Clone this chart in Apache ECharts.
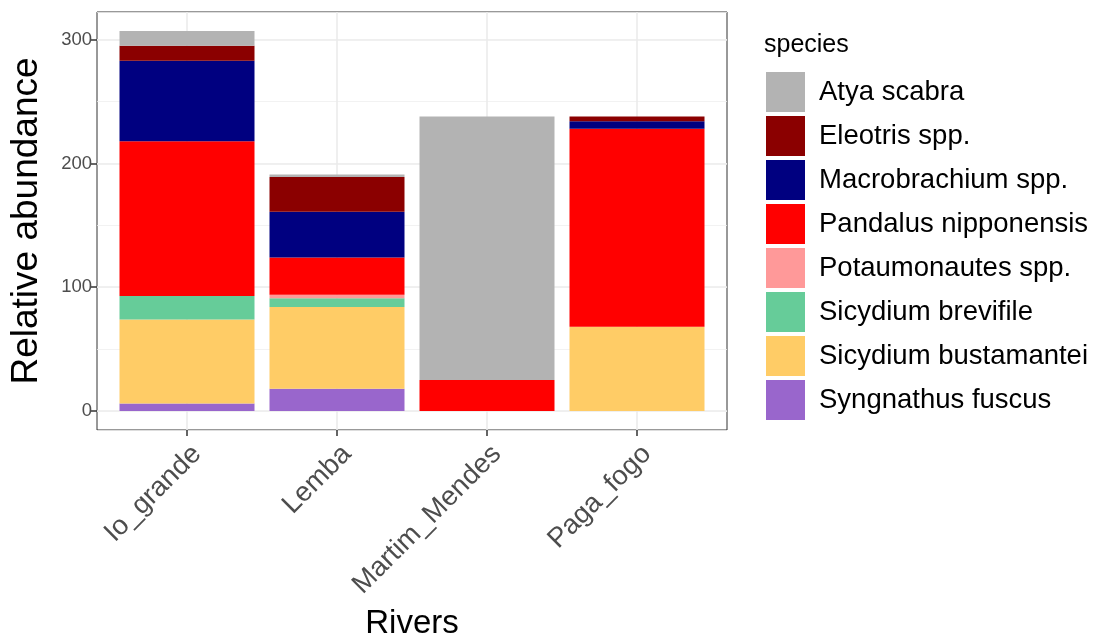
<!DOCTYPE html>
<html>
<head>
<meta charset="utf-8">
<script src="https://cdn.jsdelivr.net/npm/echarts@6/dist/echarts.min.js"></script>
<style>
html,body{margin:0;padding:0;background:#fff;}
#chart{width:1100px;height:642px;}
</style>
</head>
<body>
<div id="chart"></div>
<script>
// Data
const rivers = ['Io_grande', 'Lemba', 'Martim_Mendes', 'Paga_fogo'];
const species = ['Atya scabra', 'Eleotris spp.', 'Macrobrachium spp.', 'Pandalus nipponensis',
                 'Potaumonautes spp.', 'Sicydium brevifile', 'Sicydium bustamantei', 'Syngnathus fuscus'];
const speciesColors = ['#B3B3B3', '#8B0000', '#000080', '#FF0000', '#FF9999', '#66CC99', '#FFCC66', '#9966CC'];
const atyaScabra          = [12, 2, 213, 0];
const eleotrisSpp         = [12, 28, 0, 4];
const macrobrachiumSpp    = [65, 37, 0, 6];
const pandalusNipponensis = [125, 30, 25, 160];
const potaumonautesSpp    = [0, 3, 0, 0];
const sicydiumBrevifile   = [19, 7, 0, 0];
const sicydiumBustamantei = [68, 66, 0, 68];
const syngnathusFuscus    = [6, 18, 0, 0];
const yTicks = [0, 100, 200, 300];

const seriesValues = [atyaScabra, eleotrisSpp, macrobrachiumSpp, pandalusNipponensis,
                      potaumonautesSpp, sicydiumBrevifile, sicydiumBustamantei, syngnathusFuscus];

// y range with ggplot-like 5% expansion
const totals = rivers.map((_, i) => seriesValues.reduce((s, a) => s + a[i], 0));
const maxTotal = Math.max(...totals);
const yMin = -0.05 * maxTotal;
const yMax = maxTotal * 1.05;

const FONT = '"Liberation Sans", Arial, sans-serif';

// stack bottom first: reverse of legend order
const series = [];
for (let k = species.length - 1; k >= 0; k--) {
  series.push({
    name: species[k],
    type: 'bar',
    stack: 'total',
    xAxisIndex: 1,
    yAxisIndex: 1,
    barWidth: '90%',
    itemStyle: { color: speciesColors[k] },
    data: seriesValues[k]
  });
}

const chart = echarts.init(document.getElementById('chart'), null, { renderer: 'canvas' });
chart.setOption({
  animation: false,
  textStyle: { fontFamily: FONT },
  color: speciesColors,
  title: {
    text: 'species', left: 759, top: 28,
    textStyle: { fontFamily: FONT, fontSize: 25, fontWeight: 'normal', color: '#000' }
  },
  legend: {
    orient: 'vertical', left: 761, top: 67,
    itemWidth: 39, itemHeight: 40, itemGap: 4,
    icon: 'rect',
    data: species,
    selectedMode: false,
    textStyle: { fontFamily: FONT, fontSize: 27.5, color: '#000', padding: [0, 0, 0, 9] }
  },
  grid: [
    { left: 97, top: 12, width: 630, height: 418, show: true, borderColor: '#333333', borderWidth: 1,
      backgroundColor: 'transparent', outerBoundsMode: 'none', containLabel: false },
    { left: 112, top: 12, width: 600, height: 418, outerBoundsMode: 'none', containLabel: false }
  ],
  xAxis: [
    { type: 'value', gridIndex: 0, show: false, min: 0, max: 1 },
    {
      type: 'category', gridIndex: 1, data: rivers,
      axisLine: { show: false, onZero: false },
      axisTick: { show: true, alignWithLabel: true, length: 6, lineStyle: { color: '#333333', width: 1.5 } },
      splitLine: { show: true, alignWithLabel: true, lineStyle: { color: '#EBEBEB', width: 1.6 } },
      axisLabel: { rotate: 45, fontSize: 27.5, color: '#4D4D4D', margin: 10, verticalAlign: 'top', fontFamily: FONT },
      name: 'Rivers', nameLocation: 'middle', nameGap: 194, nameMoveOverlap: false,
      nameTextStyle: { fontSize: 33, color: '#000', fontFamily: FONT, verticalAlign: 'middle' }
    }
  ],
  yAxis: [
    {
      type: 'value', gridIndex: 0, min: yMin, max: yMax, splitNumber: 3,
      axisLine: { show: false },
      axisTick: { show: true, length: 6, customValues: yTicks, lineStyle: { color: '#333333', width: 1.5 } },
      axisLabel: {
        customValues: yTicks, fontSize: 18.5, color: '#4D4D4D', margin: 5, fontFamily: FONT,
        formatter: v => (yTicks.indexOf(Math.round(v)) >= 0 && Math.abs(v - Math.round(v)) < 1e-6) ? String(Math.round(v)) : ''
      },
      splitLine: { show: true, lineStyle: { color: '#EBEBEB', width: 1.6 } },
      name: 'Relative abundance', nameLocation: 'middle', nameGap: 52, nameMoveOverlap: false,
      nameTextStyle: { fontSize: 37, color: '#000', fontFamily: FONT }
    },
    { type: 'value', gridIndex: 1, min: yMin, max: yMax, show: false, splitLine: { show: false } },
    {
      type: 'value', gridIndex: 0, min: yMin, max: yMax, splitNumber: 7,
      axisLine: { show: false }, axisTick: { show: false }, axisLabel: { show: false },
      splitLine: { show: true, lineStyle: { color: '#EFEFEF', width: 0.8 } }
    }
  ],
  series: series
});
</script>
</body>
</html>
